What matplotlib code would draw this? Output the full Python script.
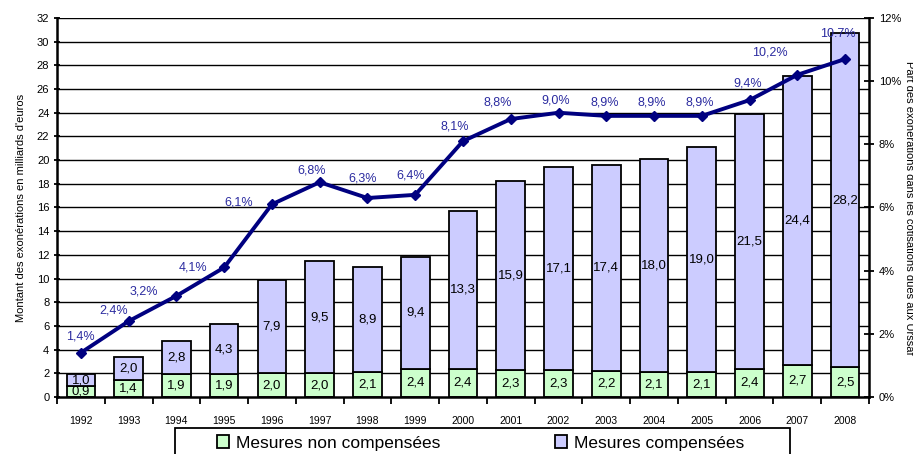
import matplotlib.pyplot as plt
from matplotlib.patches import Rectangle
import numpy as np

plt.rcParams['font.family'] = ['Liberation Sans', 'DejaVu Sans']

years = ['1992', '1993', '1994', '1995', '1996', '1997', '1998', '1999', '2000',
         '2001', '2002', '2003', '2004', '2005', '2006', '2007', '2008']
non_comp = [0.9, 1.4, 1.9, 1.9, 2.0, 2.0, 2.1, 2.4, 2.4, 2.3, 2.3, 2.2, 2.1, 2.1, 2.4, 2.7, 2.5]
comp = [1.0, 2.0, 2.8, 4.3, 7.9, 9.5, 8.9, 9.4, 13.3, 15.9, 17.1, 17.4, 18.0, 19.0, 21.5, 24.4, 28.2]
part = [1.4, 2.4, 3.2, 4.1, 6.1, 6.8, 6.3, 6.4, 8.1, 8.8, 9.0, 8.9, 8.9, 8.9, 9.4, 10.2, 10.7]
part_labels = ['1,4%', '2,4%', '3,2%', '4,1%', '6,1%', '6,8%', '6,3%', '6,4%', '8,1%',
               '8,8%', '9,0%', '8,9%', '8,9%', '8,9%', '9,4%', '10,2%', '10.7%']
# label offsets from the point, in pixels (dx, dy)
label_offsets = [(0, 16), (-15, 11), (-33, 4), (-31, 0), (-33, 2), (-8, 12), (-5, 20),
                 (-5, 19), (-8, 15), (-13, 17), (-3, 12), (-2, 13), (-2, 13), (-2, 13),
                 (-2, 17), (-27, 22), (-7, 25)]

green = '#CCFFCC'
purple = '#CCCCFF'
navy = '#000080'
label_col = '#2B2BA0'

fig = plt.figure(figsize=(9.13, 4.54), dpi=100)
ax = fig.add_axes([0.0624, 0.1256, 0.8894, 0.8348])
x = np.arange(len(years))

for yv in range(2, 33, 2):
    ax.axhline(yv, color='black', lw=1.0, zorder=0)

b1 = ax.bar(x, non_comp, width=0.6, color=green, edgecolor='black', lw=1.3,
            label='Mesures non compensées', zorder=2)
b2 = ax.bar(x, comp, width=0.6, bottom=non_comp, color=purple, edgecolor='black', lw=1.3,
            label='Mesures compensées', zorder=2)

for i in range(len(years)):
    ax.text(x[i], non_comp[i] / 2, f'{non_comp[i]:.1f}'.replace('.', ','),
            ha='center', va='center', fontsize=9.5, zorder=3)
    ax.text(x[i], non_comp[i] + comp[i] / 2, f'{comp[i]:.1f}'.replace('.', ','),
            ha='center', va='center', fontsize=9.5, zorder=3)

ax.set_xlim(-0.5, len(years) - 0.5)
ax.set_ylim(0, 32)
ax.set_yticks(range(0, 33, 2))
ax.set_xticks(x)
ax.set_xticklabels(years, fontsize=7.5)
ax.set_xticks(np.arange(-0.5, len(years), 1), minor=True)
ax.tick_params(axis='x', which='major', length=0, pad=14)
ax.tick_params(axis='x', which='minor', length=5, width=1.3, direction='out')
ax.tick_params(axis='y', labelsize=8, length=4, width=1.3, direction='inout')
for s in ['left', 'bottom']:
    ax.spines[s].set_linewidth(1.8)
ax.spines['top'].set_visible(False)
ax.spines['right'].set_visible(False)
ax.set_ylabel("Montant des exonérations en milliards d'euros", fontsize=8, labelpad=8)

ax2 = ax.twinx()
ax2.plot(x, part, color=navy, lw=2.8, marker='D', ms=5, zorder=5)
for i in range(len(years)):
    ax2.annotate(part_labels[i], (x[i], part[i]), xytext=label_offsets[i],
                 textcoords='offset pixels', ha='center', va='center',
                 fontsize=9, color=label_col)
ax2.set_ylim(0, 12)
ax2.set_yticks(range(0, 13, 2))
ax2.set_yticklabels([f'{v}%' for v in range(0, 13, 2)], fontsize=8)
ax2.tick_params(axis='y', length=7, width=1.3, direction='inout')
ax2.spines['right'].set_linewidth(1.8)
ax2.spines['top'].set_visible(False)
ax2.spines['left'].set_visible(False)
ax2.spines['bottom'].set_visible(False)
ax2.set_ylabel('Part des exonérations dans les cotisations dues aux Urssaf',
               fontsize=8, rotation=-90, labelpad=9)

# legend box (cut by the bottom edge as in the reference)
fig.patches.append(Rectangle((175 / 913, -0.05), 615 / 913, 0.05 + 26 / 454,
                             transform=fig.transFigure, facecolor='none',
                             edgecolor='black', lw=1.3, clip_on=False))
leg = fig.legend(handles=[b1, b2], loc='center left', bbox_to_anchor=(205 / 913, 11 / 454),
                 ncol=2, fontsize=12.5, frameon=False, handlelength=0.7, handleheight=0.7,
                 handletextpad=0.4, columnspacing=6.6, borderpad=0.2)

fig.savefig('out.png', dpi=100)
